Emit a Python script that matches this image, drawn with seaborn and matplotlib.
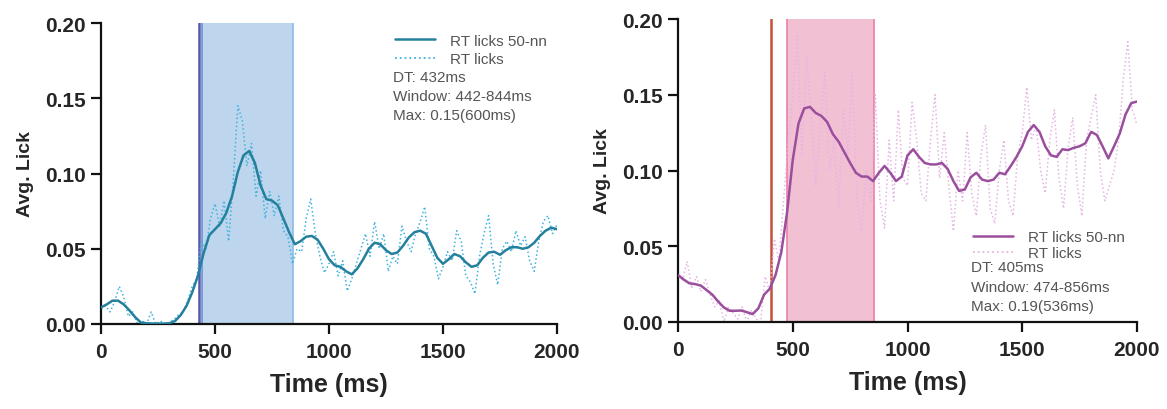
import numpy as np
import pandas as pd
import seaborn as sns
import matplotlib
matplotlib.use("Agg")
import matplotlib.pyplot as plt
from matplotlib.lines import Line2D

# ---------------- data ----------------
t_smooth = list(range(0, 2001, 25))
t_raw = list(range(0, 2001, 20))

left_smooth = [0.011, 0.013, 0.0155, 0.0155, 0.013, 0.009, 0.0045, 0.001, 0.0005, 0.0003,
               0.0002, 0.0003, 0.0005, 0.002, 0.006, 0.012, 0.021, 0.032, 0.047, 0.059,
               0.063, 0.067, 0.074, 0.085, 0.101, 0.112, 0.115, 0.107, 0.092, 0.083,
               0.082, 0.079, 0.070, 0.061, 0.053, 0.055, 0.058, 0.0585, 0.056, 0.050,
               0.043, 0.039, 0.038, 0.035, 0.033, 0.037, 0.043, 0.050, 0.054, 0.053,
               0.049, 0.0465, 0.0475, 0.052, 0.0575, 0.061, 0.062, 0.060, 0.052, 0.044,
               0.040, 0.043, 0.0465, 0.045, 0.041, 0.038, 0.039, 0.044, 0.0475, 0.048,
               0.046, 0.049, 0.051, 0.051, 0.050, 0.051, 0.054, 0.0585, 0.062, 0.064,
               0.063]

left_raw = [0.010, 0.012, 0.008, 0.015, 0.025, 0.018, 0.005, 0.008, 0.000, 0.002,
            0.000, 0.008, 0.000, 0.002, 0.000, 0.001, 0.003, 0.006, 0.008, 0.015,
            0.025, 0.030, 0.055, 0.050, 0.070, 0.080, 0.065, 0.082, 0.055, 0.095,
            0.145, 0.135, 0.105, 0.120, 0.085, 0.102, 0.070, 0.088, 0.072, 0.085,
            0.062, 0.058, 0.040, 0.050, 0.048, 0.070, 0.083, 0.060, 0.045, 0.034,
            0.040, 0.048, 0.032, 0.042, 0.022, 0.030, 0.040, 0.050, 0.060, 0.045,
            0.068, 0.050, 0.060, 0.035, 0.045, 0.040, 0.065, 0.055, 0.048, 0.060,
            0.068, 0.078, 0.050, 0.045, 0.030, 0.038, 0.048, 0.042, 0.062, 0.055,
            0.032, 0.028, 0.020, 0.045, 0.060, 0.072, 0.040, 0.026, 0.050, 0.055,
            0.048, 0.062, 0.052, 0.058, 0.042, 0.035, 0.055, 0.068, 0.072, 0.060,
            0.066]

right_smooth = [0.031, 0.028, 0.0255, 0.025, 0.024, 0.021, 0.018, 0.0135, 0.0096, 0.0074,
                0.0074, 0.0076, 0.0065, 0.0052, 0.009, 0.018, 0.022, 0.031, 0.046, 0.072,
                0.107, 0.131, 0.141, 0.142, 0.138, 0.136, 0.132, 0.124, 0.119, 0.112,
                0.105, 0.0985, 0.096, 0.096, 0.093, 0.0985, 0.103, 0.0985, 0.093, 0.096,
                0.110, 0.114, 0.109, 0.105, 0.104, 0.104, 0.105, 0.101, 0.093, 0.0865,
                0.0875, 0.0955, 0.0985, 0.094, 0.093, 0.094, 0.0985, 0.0975, 0.103, 0.109,
                0.116, 0.1255, 0.130, 0.1255, 0.116, 0.110, 0.109, 0.114, 0.1135, 0.115,
                0.116, 0.118, 0.1255, 0.1235, 0.116, 0.108, 0.116, 0.1245, 0.137, 0.1445,
                0.1455]

right_raw = [0.030, 0.028, 0.040, 0.022, 0.030, 0.020, 0.028, 0.018, 0.010, 0.014,
             0.000, 0.010, 0.006, 0.002, 0.010, 0.000, 0.008, 0.002, 0.000, 0.030,
             0.020, 0.055, 0.040, 0.080, 0.120, 0.150, 0.190, 0.110, 0.175, 0.140,
             0.090, 0.130, 0.165, 0.100, 0.120, 0.075, 0.140, 0.110, 0.165, 0.080,
             0.060, 0.100, 0.080, 0.150, 0.080, 0.062, 0.120, 0.080, 0.140, 0.095,
             0.090, 0.145, 0.120, 0.085, 0.080, 0.120, 0.150, 0.095, 0.125, 0.090,
             0.060, 0.100, 0.080, 0.125, 0.085, 0.070, 0.110, 0.130, 0.075, 0.065,
             0.100, 0.120, 0.080, 0.070, 0.110, 0.125, 0.155, 0.120, 0.130, 0.100,
             0.085, 0.120, 0.140, 0.095, 0.075, 0.115, 0.135, 0.090, 0.070, 0.120,
             0.135, 0.150, 0.100, 0.080, 0.090, 0.100, 0.120, 0.160, 0.185, 0.140,
             0.130]

left_dt = 432
left_window = (442, 844)
left_stats = ["DT: 432ms", "Window: 442-844ms", "Max: 0.15(600ms)"]
right_dt = 405
right_window = (474, 856)
right_stats = ["DT: 405ms", "Window: 474-856ms", "Max: 0.19(536ms)"]

legend_labels = ["RT licks 50-nn", "RT licks"]
x_ticks = [0, 500, 1000, 1500, 2000]
y_ticks = [0.00, 0.05, 0.10, 0.15, 0.20]

# ---------------- style ----------------
sns.set_style("ticks")
plt.rcParams['font.family'] = ['Liberation Sans', 'DejaVu Sans']

fig = plt.figure(figsize=(11.67, 4.10), dpi=100)
ax1 = fig.add_axes([101 / 1167, 85 / 410, 456 / 1167, 301 / 410])
ax2 = fig.add_axes([678 / 1167, 87 / 410, 459 / 1167, 303 / 410])

panels = [
    dict(ax=ax1, smooth=left_smooth, raw=left_raw, dt=left_dt, win=left_window,
         stats=left_stats, c_s="#24809c", c_r="#3fb3de", c_fill="#bdd6ee",
         c_edge_l="#6f8fd0", c_edge_r="#8cbbe6", c_dt="#5358a8",
         leg_xy=(0.645, 0.965), leg_sp=0.3, stat_y=(0.82, 0.757, 0.694)),
    dict(ax=ax2, smooth=right_smooth, raw=right_raw, dt=right_dt, win=right_window,
         stats=right_stats, c_s="#9a4f9d", c_r="#e6b4e4", c_fill="#f2c0d3",
         c_edge_l="#ec7fa6", c_edge_r="#ec7fa6", c_dt="#c4503a",
         leg_xy=(0.643, 0.303), leg_sp=0.15, stat_y=(0.18, 0.116, 0.053)),
]

for p in panels:
    ax = p["ax"]
    ax.axvspan(p["win"][0], p["win"][1], color=p["c_fill"], lw=0, zorder=1)
    ax.axvline(p["win"][0], color=p["c_edge_l"], lw=1.2, zorder=1.5)
    ax.axvline(p["win"][1], color=p["c_edge_r"], lw=1.2, zorder=1.5)
    ax.axvline(p["dt"], color=p["c_dt"], lw=1.8, zorder=1.6)

    df_raw = pd.DataFrame({"t": t_raw, "v": p["raw"]})
    df_s = pd.DataFrame({"t": t_smooth, "v": p["smooth"]})
    sns.lineplot(data=df_raw, x="t", y="v", ax=ax, color=p["c_r"], lw=1.1,
                 linestyle=":", zorder=2)
    sns.lineplot(data=df_s, x="t", y="v", ax=ax, color=p["c_s"], lw=1.8, zorder=3)

    ax.set_xlim(0, 2000)
    ax.set_ylim(0, 0.20)
    ax.set_xticks(x_ticks)
    ax.set_yticks(y_ticks)
    ax.set_yticklabels([f"{v:.2f}" for v in y_ticks])
    ax.tick_params(axis="both", labelsize=15, width=1.6, length=7, color="#111111")
    ax.tick_params(axis="x", pad=6)
    ax.tick_params(axis="y", pad=4)
    for lab in ax.get_xticklabels() + ax.get_yticklabels():
        lab.set_fontweight("bold")
    for s in ["top", "right"]:
        ax.spines[s].set_visible(False)
    for s in ["left", "bottom"]:
        ax.spines[s].set_linewidth(1.6)
        ax.spines[s].set_color("#111111")
    ax.set_xlabel("Time (ms)", fontsize=18, fontweight="bold", labelpad=8)
    ax.set_ylabel("Avg. Lick", fontsize=14, fontweight="bold", labelpad=8)

    handles = [Line2D([], [], color=p["c_s"], lw=1.8),
               Line2D([], [], color=p["c_r"], lw=1.3, linestyle=":")]
    leg = ax.legend(handles, legend_labels, loc="upper left",
                    bbox_to_anchor=p["leg_xy"], frameon=False, fontsize=11,
                    handlelength=2.6, handletextpad=1.0, labelspacing=p["leg_sp"],
                    borderpad=0, borderaxespad=0)
    for txt in leg.get_texts():
        txt.set_color("#555555")
    x0 = p["leg_xy"][0]
    for s, yy in zip(p["stats"], p["stat_y"]):
        ax.text(x0 - 0.005, yy, s, transform=ax.transAxes,
                fontsize=11, color="#555555", va="center", ha="left")

fig.savefig("out.png", dpi=100)
